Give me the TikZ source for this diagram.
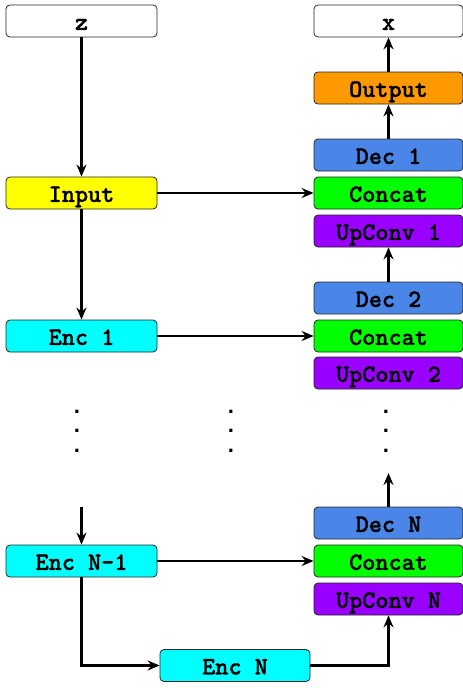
\documentclass[tikz,border=0pt]{standalone}
\usepackage{fontspec}
\newfontfamily\boxfont{lmmonolt10-bold.otf}[FakeBold=1.2]
\newfontfamily\dotfont{DejaVu Sans}
\usetikzlibrary{arrows.meta}
\definecolor{inyellow}{HTML}{FFFF00}
\definecolor{enccyan}{HTML}{00FFFF}
\definecolor{catgreen}{HTML}{00FF00}
\definecolor{outorange}{HTML}{FF9900}
\definecolor{decblue}{HTML}{4A86E8}
\definecolor{uppurple}{HTML}{9900FF}
\begin{document}
\begin{tikzpicture}[x=1pt,y=-1pt,
  box/.style={draw=black!85, line width=0.8pt, rounded corners=4pt,
    minimum height=32pt, inner sep=0pt, text height=17.8pt, text depth=0pt,
    font=\fontsize{25}{28}\selectfont\boxfont},
  lbox/.style={box, minimum width=151pt},
  rbox/.style={box, minimum width=149pt},
  link/.style={line width=2.1pt, -{Stealth[length=12pt,width=10pt,inset=4pt]}},
  dots/.style={inner sep=0pt, align=center,
    font=\fontsize{17.5}{19.5}\selectfont\dotfont\bfseries}]
\useasboundingbox (0,0) rectangle (463,688);

% encoder column
\node[lbox, fill=white]     (z)   at (81.5,21)  {z};
\node[lbox, fill=inyellow]  (in)  at (81.5,193) {Input};
\node[lbox, fill=enccyan]   (e1)  at (81.5,336) {Enc 1};
\node[lbox, fill=enccyan]   (en1) at (81.5,561) {Enc N-1};
\node[box, minimum width=150pt, fill=enccyan] (en) at (235,665.5) {Enc N};

% decoder column
\node[rbox, fill=white]     (x)   at (388.5,21)  {x};
\node[rbox, fill=outorange] (out) at (388.5,88)  {Output};
\node[rbox, fill=decblue]   (d1)  at (388.5,155) {Dec 1};
\node[rbox, fill=catgreen]  (c1)  at (388.5,193) {Concat};
\node[rbox, fill=uppurple]  (u1)  at (388.5,231) {UpConv 1};
\node[rbox, fill=decblue]   (d2)  at (388.5,298) {Dec 2};
\node[rbox, fill=catgreen]  (c2)  at (388.5,336) {Concat};
\node[rbox, fill=uppurple]  (u2)  at (388.5,373) {UpConv 2};
\node[rbox, fill=decblue]   (dn)  at (388.5,523) {Dec N};
\node[rbox, fill=catgreen]  (cn)  at (388.5,561) {Concat};
\node[rbox, fill=uppurple]  (un)  at (388.5,599) {UpConv N};

% ellipsis dots, one column of three per lane
\node[dots] (dotsl) at (77,431)  {.\\.\\.};
\node[dots] (dotsm) at (231,431) {.\\.\\.};
\node[dots] (dotsr) at (386,431) {.\\.\\.};

\coordinate (encgap) at (81.5,507);
\coordinate (decgap) at (388.5,473);

% connectors
\draw[link] (z) -- (in);
\draw[link] (in) -- (e1);
\draw[link] (encgap) -- (en1);
\draw[link] (in) -- (c1);
\draw[link] (e1.east) -- (e1.east -| c2.west);
\draw[link] (en1) -- (cn);
\draw[link] (en1.south) |- (en.west);
\draw[link] (en.east) -| (un.south);
\draw[link] (dn.north) -- (decgap);
\draw[link] (d2.north) -- (u1.south);
\draw[link] (d1) -- (out);
\draw[link] (out) -- (x);
\end{tikzpicture}
\end{document}
